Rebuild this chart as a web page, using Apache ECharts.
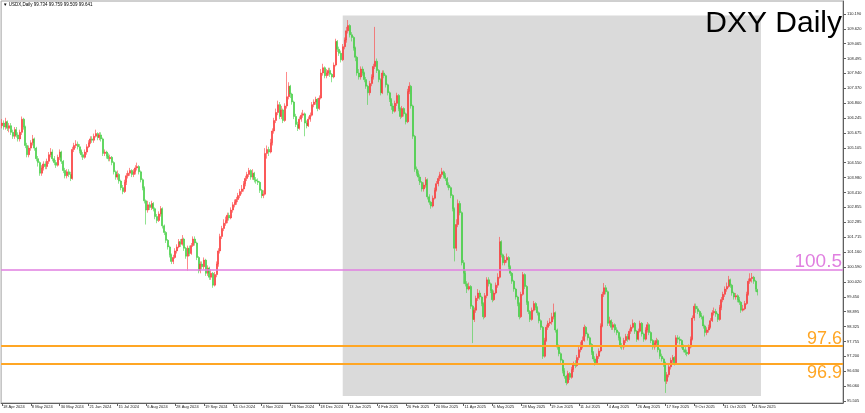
<!DOCTYPE html>
<html><head><meta charset="utf-8">
<script src="https://cdn.jsdelivr.net/npm/echarts@6/dist/echarts.min.js"></script>
<style>html,body{margin:0;padding:0;background:#fff}#c{width:865px;height:413px}</style>
</head><body><div id="c"></div>
<script>
const tickLabels = ["18 Apr 2024","8 May 2024","30 May 2024","21 Jun 2024","15 Jul 2024","6 Aug 2024","28 Aug 2024","19 Sep 2024","11 Oct 2024","4 Nov 2024","26 Nov 2024","18 Dec 2024","13 Jan 2025","4 Feb 2025","26 Feb 2025","20 Mar 2025","11 Apr 2025","6 May 2025","28 May 2025","19 Jun 2025","11 Jul 2025","4 Aug 2025","26 Aug 2025","17 Sep 2025","9 Oct 2025","31 Oct 2025","24 Nov 2025"];
const priceTicks = [95.505,96.060,96.630,97.200,97.755,98.325,98.895,99.450,100.020,100.590,101.160,101.715,102.285,102.855,103.410,103.980,104.550,105.105,105.675,106.245,106.800,107.370,107.940,108.495,109.065,109.620,110.190];

const opens = [
105.95,106.05,105.90,106.10,105.85,105.95,105.70,105.55,105.80,105.60,
105.45,105.70,106.20,105.90,105.20,104.85,105.10,105.30,105.45,105.10,
104.70,104.55,104.15,104.35,104.50,104.40,104.60,104.85,104.95,104.70,
104.55,104.45,104.75,104.95,104.60,104.25,104.05,104.20,104.10,103.95,
105.05,105.20,105.25,105.15,105.00,104.85,104.75,104.95,105.15,105.30,
105.45,105.40,105.55,105.65,105.50,105.60,105.45,104.90,104.95,104.80,
104.70,104.75,104.55,104.20,104.00,104.10,103.85,103.60,103.45,103.80,
104.05,104.15,104.25,104.10,104.20,104.35,104.40,104.20,103.90,103.60,
103.10,102.75,102.95,102.85,103.00,102.80,102.50,102.35,102.60,102.80,
102.15,101.90,101.60,101.35,101.05,100.80,100.95,101.20,101.35,101.55,
101.45,101.65,101.30,101.00,101.30,101.10,101.40,101.65,101.50,100.95,
100.45,100.70,100.60,100.85,100.35,100.55,100.20,100.35,99.90,100.30,
100.70,101.20,101.75,102.05,102.25,102.35,102.55,102.45,102.75,102.95,
103.05,103.15,103.30,103.45,103.55,103.75,103.95,104.10,104.25,104.00,
104.15,103.90,103.85,103.80,103.50,103.30,103.35,104.90,105.05,104.95,
105.30,105.75,106.15,106.45,106.75,106.30,106.55,106.15,106.70,107.05,
107.45,107.15,106.85,106.30,106.00,105.85,106.20,106.35,106.40,106.05,
105.95,106.20,106.35,106.75,106.85,106.95,106.60,107.00,107.95,108.15,
107.85,107.95,108.05,107.90,107.80,108.25,109.15,108.85,108.70,108.45,
108.95,109.20,109.55,109.75,109.40,109.30,108.90,108.55,107.95,107.80,
108.10,107.95,107.70,107.45,107.20,107.55,107.80,108.20,108.40,108.05,
107.70,107.20,107.95,107.85,107.50,107.20,106.95,106.70,106.50,106.80,
107.10,106.60,106.30,106.60,106.40,106.10,107.25,107.45,106.70,105.55,
104.30,104.15,104.00,103.80,103.55,103.70,103.90,103.25,103.05,102.90,
103.20,103.50,103.75,103.95,104.10,104.20,104.05,103.95,103.70,103.60,
103.30,102.80,101.30,102.20,103.00,102.65,100.75,100.35,99.95,99.75,
99.85,99.10,98.60,98.95,99.40,99.60,99.45,99.20,98.70,99.50,
100.10,99.95,99.70,99.35,99.60,99.90,100.20,101.55,101.05,100.75,
100.85,100.95,100.60,100.35,100.05,99.75,99.45,99.20,98.70,99.55,
100.30,99.85,99.25,98.90,98.60,98.95,99.20,99.05,98.85,98.55,
98.30,97.20,97.80,98.30,98.45,98.50,98.70,98.85,98.20,97.55,
97.30,97.05,96.65,96.45,96.20,96.55,96.40,96.70,96.90,96.85,
97.15,97.45,97.60,97.80,98.30,98.05,97.90,97.65,97.35,97.10,
96.95,97.20,97.40,98.35,99.55,99.80,99.65,98.45,98.55,98.30,
98.40,98.20,98.10,97.90,97.60,97.55,97.80,97.95,97.85,98.15,
98.30,98.45,98.15,97.85,98.15,98.45,98.05,97.85,98.20,98.40,
98.10,97.80,97.55,97.70,97.80,97.45,97.20,97.10,96.95,96.25,
96.50,96.80,97.05,97.15,96.95,97.90,97.85,97.80,97.60,97.45,
97.35,97.30,97.55,97.85,98.65,99.10,99.00,98.90,98.75,98.70,
98.35,98.10,98.20,98.30,98.55,98.85,98.90,98.80,98.60,99.05,
99.35,99.55,99.75,99.85,100.10,99.90,99.60,99.45,99.50,99.35,
99.25,98.95,99.00,99.20,99.55,100.05,100.15,100.20,100.05,99.73];

const closes = [
106.05,105.90,106.10,105.85,105.95,105.70,105.55,105.80,105.60,105.45,
105.70,106.20,105.90,105.20,104.85,105.10,105.30,105.45,105.10,104.70,
104.55,104.15,104.35,104.50,104.40,104.60,104.85,104.95,104.70,104.55,
104.45,104.75,104.95,104.60,104.25,104.05,104.20,104.10,103.95,105.05,
105.20,105.25,105.15,105.00,104.85,104.75,104.95,105.15,105.30,105.45,
105.40,105.55,105.65,105.50,105.60,105.45,104.90,104.95,104.80,104.70,
104.75,104.55,104.20,104.00,104.10,103.85,103.60,103.45,103.80,104.05,
104.15,104.25,104.10,104.20,104.35,104.40,104.20,103.90,103.60,103.10,
102.75,102.95,102.85,103.00,102.80,102.50,102.35,102.60,102.80,102.15,
101.90,101.60,101.35,101.05,100.80,100.95,101.20,101.35,101.55,101.45,
101.65,101.30,101.00,101.30,101.10,101.40,101.65,101.50,100.95,100.45,
100.70,100.60,100.85,100.35,100.55,100.20,100.35,99.90,100.30,100.70,
101.20,101.75,102.05,102.25,102.35,102.55,102.45,102.75,102.95,103.05,
103.15,103.30,103.45,103.55,103.75,103.95,104.10,104.25,104.00,104.15,
103.90,103.85,103.80,103.50,103.30,103.35,104.90,105.05,104.95,105.30,
105.75,106.15,106.45,106.75,106.30,106.55,106.15,106.70,107.05,107.45,
107.15,106.85,106.30,106.00,105.85,106.20,106.35,106.40,106.05,105.95,
106.20,106.35,106.75,106.85,106.95,106.60,107.00,107.95,108.15,107.85,
107.95,108.05,107.90,107.80,108.25,109.15,108.85,108.70,108.45,108.95,
109.20,109.55,109.75,109.40,109.30,108.90,108.55,107.95,107.80,108.10,
107.95,107.70,107.45,107.20,107.55,107.80,108.20,108.40,108.05,107.70,
107.20,107.95,107.85,107.50,107.20,106.95,106.70,106.50,106.80,107.10,
106.60,106.30,106.60,106.40,106.10,107.25,107.45,106.70,105.55,104.30,
104.15,104.00,103.80,103.55,103.70,103.90,103.25,103.05,102.90,103.20,
103.50,103.75,103.95,104.10,104.20,104.05,103.95,103.70,103.60,103.30,
102.80,101.30,102.20,103.00,102.65,100.75,100.35,99.95,99.75,99.85,
99.10,98.60,98.95,99.40,99.60,99.45,99.20,98.70,99.50,100.10,
99.95,99.70,99.35,99.60,99.90,100.20,101.55,101.05,100.75,100.85,
100.95,100.60,100.35,100.05,99.75,99.45,99.20,98.70,99.55,100.30,
99.85,99.25,98.90,98.60,98.95,99.20,99.05,98.85,98.55,98.30,
97.20,97.80,98.30,98.45,98.50,98.70,98.85,98.20,97.55,97.30,
97.05,96.65,96.45,96.20,96.55,96.40,96.70,96.90,96.85,97.15,
97.45,97.60,97.80,98.30,98.05,97.90,97.65,97.35,97.10,96.95,
97.20,97.40,98.35,99.55,99.80,99.65,98.45,98.55,98.30,98.40,
98.20,98.10,97.90,97.60,97.55,97.80,97.95,97.85,98.15,98.30,
98.45,98.15,97.85,98.15,98.45,98.05,97.85,98.20,98.40,98.10,
97.80,97.55,97.70,97.80,97.45,97.20,97.10,96.95,96.25,96.50,
96.80,97.05,97.15,96.95,97.90,97.85,97.80,97.60,97.45,97.35,
97.30,97.55,97.85,98.65,99.10,99.00,98.90,98.75,98.70,98.35,
98.10,98.20,98.30,98.55,98.85,98.90,98.80,98.60,99.05,99.35,
99.55,99.75,99.85,100.10,99.90,99.60,99.45,99.50,99.35,99.25,
98.95,99.00,99.20,99.55,100.05,100.15,100.20,100.05,99.75,99.641];

const highs = [
106.20,106.15,106.25,106.15,106.05,106.05,105.80,105.90,105.90,105.70,
105.80,106.30,106.25,105.95,105.30,105.20,105.40,105.60,105.50,105.15,
104.80,104.60,104.45,104.60,104.60,104.70,104.95,105.10,105.05,104.80,
104.65,104.85,105.05,105.00,104.65,104.35,104.30,104.30,104.20,105.15,
105.30,105.40,105.35,105.25,105.05,104.95,105.05,105.25,105.40,105.55,
105.55,105.65,105.80,105.70,105.70,105.70,105.50,105.05,105.00,104.90,
104.85,104.80,104.60,104.25,104.25,104.15,103.90,103.70,103.90,104.15,
104.25,104.35,104.30,104.30,104.45,104.55,104.45,104.25,103.95,103.65,
103.15,103.10,103.05,103.10,103.05,102.85,102.60,102.70,102.90,102.85,
102.20,101.95,101.65,101.40,101.10,101.05,101.30,101.45,101.65,101.65,
101.80,101.70,101.35,101.40,101.40,101.50,101.75,101.75,101.55,101.00,
100.80,100.80,100.95,100.90,100.65,100.60,100.50,100.40,100.40,100.80,
101.30,101.85,102.15,102.40,102.50,102.65,102.65,102.85,103.05,103.15,
103.25,103.40,103.55,103.70,103.85,104.05,104.20,104.35,104.30,104.30,
104.20,104.00,103.95,103.85,103.55,103.50,105.10,105.20,105.15,105.45,
105.85,106.25,106.60,106.90,106.85,106.70,106.60,106.80,107.99,107.60,
107.50,107.20,106.90,106.40,106.10,106.30,106.45,106.55,106.45,106.15,
106.30,106.45,106.85,106.95,107.05,107.00,107.10,108.10,108.30,108.20,
108.10,108.15,108.15,107.95,108.35,109.25,109.20,108.95,108.80,109.05,
109.30,109.70,109.96,109.80,109.50,109.35,108.95,108.60,108.10,108.20,
108.20,108.00,107.80,107.50,107.65,107.90,108.30,109.70,108.50,108.10,
107.75,108.05,108.05,107.90,107.55,107.25,107.00,106.80,106.90,107.20,
107.15,106.65,106.70,106.65,106.45,107.35,107.60,107.50,106.75,105.60,
104.40,104.25,104.10,103.85,103.80,104.00,103.95,103.35,103.10,103.30,
103.60,103.85,104.05,104.20,104.35,104.25,104.15,104.00,103.80,103.65,
103.35,102.85,102.40,103.15,103.10,102.70,100.85,100.45,100.05,100.00,
99.90,99.15,99.05,99.50,99.75,99.70,99.50,99.25,99.60,100.20,
100.20,100.00,99.75,99.70,100.00,100.35,101.73,101.60,101.10,101.00,
101.10,101.00,100.65,100.40,100.10,99.80,99.50,99.25,99.65,100.40,
100.35,99.90,99.30,98.95,99.05,99.30,99.25,99.10,98.90,98.60,
98.35,97.90,98.40,98.55,98.65,98.85,99.20,98.90,98.25,97.65,
97.35,97.10,96.75,96.50,96.65,96.60,96.80,97.00,97.05,97.25,
97.55,97.75,97.95,98.40,98.35,98.10,97.95,97.70,97.40,97.20,
97.30,97.50,98.45,99.65,99.98,99.90,99.70,98.70,98.60,98.50,
98.45,98.30,98.15,97.95,97.70,97.90,98.05,98.05,98.25,98.40,
98.60,98.50,98.20,98.25,98.55,98.50,98.10,98.30,98.50,98.45,
98.15,97.85,97.80,97.90,97.85,97.50,97.30,97.15,97.00,96.60,
96.90,97.15,97.25,97.20,98.00,98.00,97.95,97.85,97.65,97.55,
97.45,97.65,97.95,98.75,99.20,99.20,99.10,98.95,98.85,98.75,
98.40,98.30,98.40,98.65,98.95,99.05,99.00,98.85,99.15,99.45,
99.65,99.85,100.00,100.25,100.15,99.95,99.65,99.60,99.55,99.45,
99.30,99.15,99.30,99.65,100.15,100.35,100.36,100.25,100.10,99.759];

const lows = [
105.85,105.80,105.80,105.75,105.70,105.60,105.45,105.45,105.50,105.35,
105.35,105.60,105.80,105.10,104.75,104.75,105.00,105.20,105.00,104.60,
104.40,104.05,104.05,104.25,104.30,104.30,104.50,104.75,104.60,104.45,
104.35,104.40,104.65,104.50,104.15,103.95,103.95,104.00,103.85,103.90,
104.95,105.10,105.05,104.90,104.75,104.65,104.70,104.85,105.10,105.25,
105.30,105.30,105.50,105.40,105.40,105.35,104.80,104.80,104.70,104.60,
104.60,104.45,104.10,103.90,103.90,103.75,103.50,103.35,103.40,103.70,
103.95,104.05,104.00,104.00,104.10,104.25,104.10,103.80,103.50,103.00,
102.20,102.65,102.75,102.75,102.70,102.40,102.25,102.30,102.50,102.05,
101.80,101.50,101.25,100.95,100.70,100.70,100.90,101.10,101.30,101.35,
101.40,101.20,100.90,100.45,101.00,101.05,101.35,101.40,100.85,100.35,
100.35,100.50,100.50,100.25,100.25,100.10,100.10,99.80,99.85,100.20,
100.60,101.10,101.65,101.95,102.15,102.25,102.35,102.40,102.65,102.85,
102.95,103.05,103.20,103.35,103.45,103.65,103.85,104.00,103.90,103.90,
103.80,103.75,103.70,103.40,103.20,103.20,103.30,104.70,104.80,104.90,
105.20,105.65,106.05,106.35,106.20,106.20,106.05,106.10,106.60,106.95,
107.00,106.75,106.20,105.90,105.75,105.80,106.10,106.25,105.55,105.85,
105.90,106.10,106.30,106.65,106.75,106.50,106.55,106.95,107.85,107.75,
107.75,107.85,107.80,107.60,107.75,108.20,108.75,108.60,108.35,108.40,
108.85,109.10,109.45,109.30,109.15,108.80,108.40,107.85,107.70,107.70,
107.85,107.60,107.35,106.74,107.10,107.45,107.70,108.10,107.95,107.60,
107.10,107.15,107.75,107.40,107.10,106.85,106.55,106.40,106.45,106.70,
106.50,106.20,106.25,106.30,106.00,106.05,107.15,106.60,105.45,104.20,
104.05,103.85,103.70,103.45,103.45,103.60,103.15,102.95,102.80,102.85,
103.15,103.45,103.65,103.85,104.00,103.95,103.85,103.60,103.50,103.20,
102.70,100.80,101.20,102.10,102.55,100.65,99.95,99.85,99.60,99.70,
99.00,97.70,98.50,98.85,99.30,99.35,99.10,98.60,98.65,99.40,
99.85,99.60,99.25,99.30,99.55,99.80,100.15,100.95,100.65,100.65,
100.75,100.50,100.25,99.95,99.65,99.35,99.10,98.60,98.65,99.50,
99.75,99.15,98.80,98.50,98.55,98.90,98.95,98.75,98.45,98.20,
97.10,97.15,97.75,98.20,98.35,98.40,98.60,98.10,97.45,97.20,
96.95,96.55,96.35,96.10,96.15,96.30,96.35,96.60,96.75,96.80,
97.05,97.35,97.50,97.75,97.95,97.80,97.55,97.25,97.00,96.85,
96.90,97.10,97.35,98.30,99.45,99.55,98.35,98.35,98.20,98.20,
98.10,98.00,97.80,97.50,97.45,97.45,97.70,97.75,97.80,98.05,
98.25,98.05,97.75,97.80,98.10,97.95,97.75,97.80,98.10,98.00,
97.70,97.45,97.45,97.60,97.35,97.10,97.00,96.80,95.81,96.15,
96.40,96.70,96.95,96.85,96.90,97.70,97.65,97.50,97.35,97.25,
97.20,97.25,97.50,97.80,98.55,98.85,98.80,98.65,98.60,98.25,
97.95,98.00,98.10,98.25,98.50,98.75,98.70,98.50,98.55,98.95,
99.25,99.45,99.65,99.80,99.80,99.50,99.35,99.35,99.25,99.15,
98.85,98.90,98.95,99.15,99.50,99.95,100.00,99.95,99.65,99.509];

const levels = [100.5, 97.6, 96.9];
const levelTexts = ["100.5", "97.6", "96.9"];
const zoneStartIndex = 189, zoneEndIndex = 421, zoneTop = 110.13, zoneBottom = 95.69;
const headerText = "USDX,Daily 99.734 99.759 99.509 99.641";
const titleText = "DXY Daily";

// layout
const SLOTS = 467;           // visible bar slots incl. right chart shift
const FONT = 'Liberation Sans';
const VIOLET = '#e07fe0', ORANGE = '#ffa624';

const cats = Array.from({length: SLOTS}, (_, i) => String(i));
const candles = opens.map((o, i) => {
  const c = closes[i];
  return [o, c, Math.min(lows[i], o, c), Math.max(highs[i], o, c)];
});
const labelInterval = (idx) => idx % 16 === 0 && (idx / 16) < tickLabels.length;

const levelStyle = [
  {color: VIOLET, width: 1.5, pos: 'insideEndTop', size: 19},
  {color: ORANGE, width: 2, pos: 'insideEndTop', size: 18},
  {color: ORANGE, width: 2, pos: 'insideEndBottom', size: 18}
];
const mlData = [];
levels.forEach((lv, k) => {
  const st = levelStyle[k];
  mlData.push({yAxis: lv, lineStyle: {color: st.color, width: st.width, type: 'solid'},
    label: {show: true, position: st.pos, formatter: levelTexts[k], color: st.color,
      fontSize: st.size, fontFamily: FONT, distance: [1, st.pos === 'insideEndTop' ? -2 : 0]}});
  mlData.push({yAxis: lv, lineStyle: {opacity: 0},
    label: {show: true, position: 'end', formatter: lv.toFixed(3), color: '#fff',
      backgroundColor: st.color, fontSize: 4, fontFamily: FONT, padding: [1, 2, 0.5, 2], distance: 1}});
});
const last = closes[closes.length - 1];
mlData.push({yAxis: last, lineStyle: {opacity: 0},
  label: {show: true, position: 'end', formatter: last.toFixed(3), color: '#fff',
    backgroundColor: '#000', fontSize: 4, fontFamily: FONT, padding: [1, 2, 0.5, 2], distance: 1}});

const chart = echarts.init(document.getElementById('c'), null, {renderer: 'canvas'});
chart.setOption({
  animation: false,
  backgroundColor: '#fff',
  grid: {left: 1, right: 22, top: 1, bottom: 10, show: true, borderColor: '#a0a0a0', borderWidth: 1},
  xAxis: {
    type: 'category', data: cats, boundaryGap: true,
    axisLine: {show: true, lineStyle: {color: '#606060', width: 1}},
    axisTick: {show: true, alignWithLabel: true, interval: labelInterval, length: 3, lineStyle: {color: '#606060'}},
    axisLabel: {interval: labelInterval, formatter: (v, i) => tickLabels[i / 16] || '',
      align: 'left', fontSize: 4, fontFamily: FONT, color: '#222', margin: 2, padding: [0, 0, 0, 1]},
    splitLine: {show: false}
  },
  yAxis: {
    type: 'value', position: 'right', min: 95.427, max: 110.683, scale: true,
    axisLine: {show: true, lineStyle: {color: '#606060', width: 1}},
    axisTick: {show: true, length: 3, customValues: priceTicks, lineStyle: {color: '#606060'}},
    axisLabel: {customValues: priceTicks, formatter: (v) => v.toFixed(3), fontSize: 4,
      fontFamily: FONT, color: '#222', margin: 4},
    splitLine: {show: false}
  },
  graphic: [
    {type: 'text', left: 3, top: 2, z: 100, style: {text: '\u25BC ' + headerText, fontSize: 4.5, fontFamily: FONT, fill: '#000'}},
    {type: 'text', right: 23, top: 9, z: 100, style: {text: titleText, fontSize: 30, fontFamily: FONT, fill: '#000'}}
  ],
  series: [{
    type: 'candlestick',
    data: candles,
    large: false,
    barWidth: 1.5,
    itemStyle: {color: '#ee0a0a', color0: '#1cc41c', borderColor: '#ff3c3c', borderColor0: '#46d046', borderWidth: 0.6},
    markArea: {silent: true, itemStyle: {color: '#dadada'},
      data: [[{xAxis: zoneStartIndex, yAxis: zoneTop}, {xAxis: zoneEndIndex, yAxis: zoneBottom}]]},
    markLine: {silent: true, symbol: ['none', 'none'], data: mlData}
  }]
});
</script></body></html>
